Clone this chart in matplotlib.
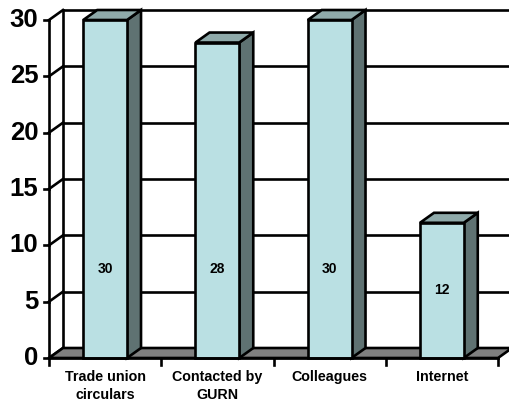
import matplotlib.pyplot as plt
from matplotlib.patches import Polygon

categories = ["Trade union\ncirculars", "Contacted by\nGURN", "Colleagues", "Internet"]
values = [30, 28, 30, 12]
y_ticks = [0, 5, 10, 15, 20, 25, 30]

FRONT = "#BAE0E3"
SIDE = "#5F7272"
TOP = "#8FAAAA"
FLOOR = "#808080"

plt.rcParams['font.family'] = ['Liberation Sans', 'DejaVu Sans']

fig = plt.figure(figsize=(5.1, 4.08), dpi=100)
ax = fig.add_axes([49 / 510, 50 / 408, 449 / 510, 338 / 408])
ax.set_xlim(0, 4)
ax.set_ylim(0, 30)
ax.axis('off')

# depth offset of the 3D box, in data units
dx = 14 / 112.25
dy = 10 / 11.27
lw = 1.9

# back wall gridlines, diagonals and tick labels
for t in y_ticks:
    ax.plot([dx, 4.3], [t + dy, t + dy], color='black', lw=lw, clip_on=False, zorder=1)
    ax.plot([0, dx], [t, t + dy], color='black', lw=lw, clip_on=False, zorder=1)
    ax.plot([-0.045, 0], [t, t], color='black', lw=lw, clip_on=False, zorder=5)
    ax.text(-0.095, t, str(t), ha='right', va='center', fontsize=18.5, fontweight='bold')
ax.plot([dx, dx], [dy, 30 + dy], color='black', lw=lw, clip_on=False, zorder=1)

# floor
ax.add_patch(Polygon([(0, 0), (4, 0), (4 + dx, dy), (dx, dy)], closed=True,
                     facecolor=FLOOR, edgecolor='black', lw=lw, clip_on=False, zorder=2))
ax.plot([0, 0], [0, 30], color='black', lw=lw, clip_on=False, zorder=5)
ax.plot([0, 4], [0, 0], color='black', lw=lw, clip_on=False, zorder=6)
for i in range(5):
    ax.plot([i, i], [0, -0.6], color='black', lw=lw, clip_on=False, zorder=6)

# bars
width = 0.39
xs = list(range(len(values)))
bars = ax.bar([x + 0.5 for x in xs], values, width=width, color=FRONT,
              edgecolor='black', lw=lw, zorder=4, clip_on=False)
for b, v in zip(bars, values):
    x0 = b.get_x()
    x1 = x0 + b.get_width()
    ax.add_patch(Polygon([(x1, 0), (x1 + dx, dy), (x1 + dx, v + dy), (x1, v)], closed=True,
                         facecolor=SIDE, edgecolor='black', lw=lw, clip_on=False, zorder=3))
    ax.add_patch(Polygon([(x0, v), (x1, v), (x1 + dx, v + dy), (x0 + dx, v + dy)], closed=True,
                         facecolor=TOP, edgecolor='black', lw=lw, clip_on=False, zorder=3))
    ax.text((x0 + x1) / 2, min(v / 2, 7.9), str(v), ha='center', va='center',
            fontsize=10, fontweight='bold', zorder=7)

for x, c in zip(xs, categories):
    ax.text(x + 0.5, -1.1, c, ha='center', va='top', fontsize=10.3, fontweight='bold',
            linespacing=1.35)

fig.savefig('out.png', dpi=100)
